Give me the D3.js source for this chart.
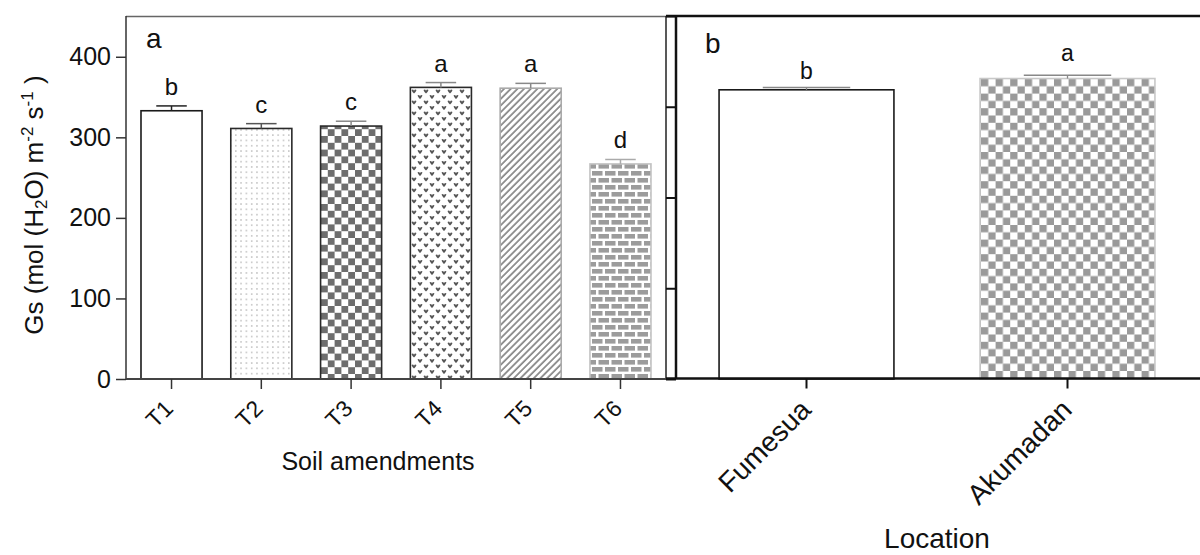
<!DOCTYPE html>
<html><head><meta charset="utf-8">
<script src="https://cdn.jsdelivr.net/npm/d3@7"></script>
<style>
html,body{margin:0;padding:0;background:#fff;}
svg{display:block;font-family:"Liberation Sans",Arial,sans-serif;}
</style></head>
<body>
<svg id="chart" width="1200" height="555"></svg>
<script>
// ---- data ----
const treatments = ["T1","T2","T3","T4","T5","T6"];
const gsTreatment = [333, 311, 314, 362, 361, 267];
const errTreatment = [6, 6, 6, 6, 6, 5.5];
const lettersTreatment = ["b","c","c","a","a","d"];
const locations = ["Fumesua","Akumadan"];
const gsLocation = [359, 373];
const errLocation = [3, 4];
const lettersLocation = ["b","a"];
const yTicksA = [0,100,200,300,400];
const yTicksB = [0,100,200,300,400];

// ---- styles ----
const fillA = {T1:"#fff",T2:"url(#dots)",T3:"url(#check3)",T4:"url(#hearts)",T5:"url(#hatch)",T6:"url(#brick)"};
const strokeA = {T1:"#1a1a1a",T2:"#2a2a2a",T3:"#2a2a2a",T4:"#2a2a2a",T5:"#aaa",T6:"#c4c4c4"};
const errColA = {T1:"#222",T2:"#555",T3:"#888",T4:"#888",T5:"#888",T6:"#aaa"};
const fillB = {Fumesua:"#fff",Akumadan:"url(#checkB)"};
const strokeB = {Fumesua:"#1a1a1a",Akumadan:"#c8c8c8"};
const FONT = "Liberation Sans, Arial, sans-serif";

const svg = d3.select("#chart");
const defs = svg.append("defs");

// dots
let p = defs.append("pattern").attr("id","dots").attr("patternUnits","userSpaceOnUse").attr("width",5.3).attr("height",5.3);
p.append("rect").attr("width",5.3).attr("height",5.3).attr("fill","#fff");
p.append("circle").attr("cx",2.6).attr("cy",2.6).attr("r",0.65).attr("fill","#8a8a8a");
// checker T3
p = defs.append("pattern").attr("id","check3").attr("patternUnits","userSpaceOnUse").attr("width",13.6).attr("height",13.6).attr("x",321).attr("y",0);
p.append("rect").attr("width",13.6).attr("height",13.6).attr("fill","#fff");
p.append("rect").attr("width",6.8).attr("height",6.8).attr("fill","#6e6e6e");
p.append("rect").attr("x",6.8).attr("y",6.8).attr("width",6.8).attr("height",6.8).attr("fill","#6e6e6e");
// hearts T4
p = defs.append("pattern").attr("id","hearts").attr("patternUnits","userSpaceOnUse").attr("width",12).attr("height",11).attr("x",411);
p.append("rect").attr("width",12).attr("height",11).attr("fill","#fff");
const heart = "M0,0 q1.6,-1.4 2.5,0.7 q0.9,-2.1 2.5,-0.7 q-0.7,2 -2.5,3.6 q-1.8,-1.6 -2.5,-3.6z";
p.append("path").attr("d",heart).attr("transform","translate(0.5,2)").attr("fill","#555");
p.append("path").attr("d",heart).attr("transform","translate(6.5,7.5)").attr("fill","#555");
// hatch T5
p = defs.append("pattern").attr("id","hatch").attr("patternUnits","userSpaceOnUse").attr("width",4.7).attr("height",10).attr("patternTransform","rotate(45)");
p.append("rect").attr("width",4.7).attr("height",10).attr("fill","#fff");
p.append("line").attr("x1",1).attr("x2",1).attr("y1",0).attr("y2",10).attr("stroke","#6a6a6a").attr("stroke-width",1.4);
// brick T6
p = defs.append("pattern").attr("id","brick").attr("patternUnits","userSpaceOnUse").attr("width",13).attr("height",14).attr("x",591).attr("y",2);
p.append("rect").attr("width",13).attr("height",14).attr("fill","#fff");
p.append("rect").attr("x",1).attr("y",1).attr("width",10.5).attr("height",4.6).attr("fill","#9c9c9c");
p.append("rect").attr("x",-5.5).attr("y",8).attr("width",10.5).attr("height",4.6).attr("fill","#9c9c9c");
p.append("rect").attr("x",7.5).attr("y",8).attr("width",10.5).attr("height",4.6).attr("fill","#9c9c9c");
// checker Akumadan
p = defs.append("pattern").attr("id","checkB").attr("patternUnits","userSpaceOnUse").attr("width",14.6).attr("height",14.6).attr("x",981).attr("y",79);
p.append("rect").attr("width",14.6).attr("height",14.6).attr("fill","#fff");
p.append("rect").attr("width",7.3).attr("height",7.3).attr("fill","#9a9a9a");
p.append("rect").attr("x",7.3).attr("y",7.3).attr("width",7.3).attr("height",7.3).attr("fill","#9a9a9a");

// ---- scales ----
const yA = d3.scaleLinear().domain([0,450]).range([379,16.5]);
const xA = d3.scaleBand().domain(treatments).range([126,666]).paddingInner(0.32).paddingOuter(0.167);
const yB = d3.scaleLinear().domain([0,400]).range([379,16]);
const xB = d3.scaleBand().domain(locations).range([676,1198]).paddingInner(0.33).paddingOuter(0.165);

// ---- Panel a ----
const gA = svg.append("g");
gA.append("line").attr("x1",126).attr("x2",666).attr("y1",16.5).attr("y2",16.5).attr("stroke","#666").attr("stroke-width",1.3);
gA.append("line").attr("x1",666).attr("x2",666).attr("y1",16).attr("y2",379).attr("stroke","#222").attr("stroke-width",1.5);

gA.selectAll("rect.bar").data(treatments).join("rect").attr("class","bar")
  .attr("x",d=>xA(d)).attr("width",xA.bandwidth())
  .attr("y",(d,i)=>yA(gsTreatment[i])).attr("height",(d,i)=>yA(0)-yA(gsTreatment[i]))
  .attr("fill",d=>fillA[d]).attr("stroke",d=>strokeA[d]).attr("stroke-width",1.6);
treatments.forEach((d,i)=>{
  const cx = xA(d)+xA.bandwidth()/2, top=yA(gsTreatment[i]+errTreatment[i]);
  const hw = xA.bandwidth()/4;
  gA.append("line").attr("x1",cx).attr("x2",cx).attr("y1",yA(gsTreatment[i])).attr("y2",top).attr("stroke",errColA[d]).attr("stroke-width",1.5);
  gA.append("line").attr("x1",cx-hw).attr("x2",cx+hw).attr("y1",top).attr("y2",top).attr("stroke",errColA[d]).attr("stroke-width",1.5);
  gA.append("text").attr("x",cx).attr("y",top-11).attr("text-anchor","middle").attr("font-size",24).attr("fill","#111").text(lettersTreatment[i]);
});

const axA = gA.append("g").attr("transform","translate(126,0)")
  .call(d3.axisLeft(yA).tickValues(yTicksA).tickSize(10).tickPadding(5).tickSizeOuter(0));
axA.select(".domain").attr("stroke","#333").attr("stroke-width",1.5).attr("d","M0,16V379");
axA.selectAll(".tick line").attr("stroke","#333").attr("stroke-width",1.5);
axA.selectAll(".tick text").attr("font-size",25).attr("fill","#111").attr("font-family",FONT);

const axXA = gA.append("g").attr("transform","translate(0,379)")
  .call(d3.axisBottom(xA).tickSize(10).tickSizeOuter(0));
axXA.select(".domain").attr("stroke","#444").attr("stroke-width",2).attr("d","M126,0H666");
axXA.selectAll(".tick line").attr("stroke","#333").attr("stroke-width",1.5);
axXA.selectAll(".tick text").attr("font-size",23).attr("fill","#111").attr("font-family",FONT)
  .attr("text-anchor","end").attr("dy",null).attr("y",null)
  .attr("transform","translate(3,31) rotate(-45)");

gA.append("text").attr("x",146).attr("y",48).attr("font-size",28).attr("fill","#111").text("a");

const yl = svg.append("text").attr("transform","translate(43,205) rotate(-90)").attr("text-anchor","middle").attr("font-size",26).attr("fill","#111");
yl.append("tspan").text("Gs (mol (H");
yl.append("tspan").attr("font-size",17).attr("baseline-shift","-25%").text("2");
yl.append("tspan").text("O) m");
yl.append("tspan").attr("font-size",17).attr("baseline-shift","60%").text("-2");
yl.append("tspan").text(" s");
yl.append("tspan").attr("font-size",17).attr("baseline-shift","60%").text("-1");
yl.append("tspan").text("  )");

svg.append("text").attr("x",378).attr("y",470).attr("text-anchor","middle").attr("font-size",25).attr("fill","#111").text("Soil amendments");

// ---- Panel b ----
const gB = svg.append("g");
gB.selectAll("rect.bar").data(locations).join("rect").attr("class","bar")
  .attr("x",d=>xB(d)).attr("width",xB.bandwidth())
  .attr("y",(d,i)=>yA(gsLocation[i])).attr("height",(d,i)=>yA(0)-yA(gsLocation[i]))
  .attr("fill",d=>fillB[d]).attr("stroke",d=>strokeB[d]).attr("stroke-width",1.6);
locations.forEach((d,i)=>{
  const cx = xB(d)+xB.bandwidth()/2, top=yA(gsLocation[i]+errLocation[i]);
  const hw = xB.bandwidth()/4;
  gB.append("line").attr("x1",cx).attr("x2",cx).attr("y1",yA(gsLocation[i])).attr("y2",top).attr("stroke","#888").attr("stroke-width",1.3);
  gB.append("line").attr("x1",cx-hw).attr("x2",cx+hw).attr("y1",top).attr("y2",top).attr("stroke","#888").attr("stroke-width",1.5);
  gB.append("text").attr("x",cx).attr("y",top-(i===0?8:14)).attr("text-anchor","middle").attr("font-size",23).attr("fill","#111").text(lettersLocation[i]);
});
gB.append("line").attr("x1",666).attr("x2",1200).attr("y1",16).attr("y2",16).attr("stroke","#111").attr("stroke-width",2.5);
const axB = gB.append("g").attr("transform","translate(676,0)")
  .call(d3.axisLeft(yB).tickValues(yTicksB).tickSize(10).tickFormat("").tickSizeOuter(0));
axB.select(".domain").attr("stroke","#111").attr("stroke-width",2.5).attr("d","M0,16V379");
axB.selectAll(".tick line").attr("stroke","#111").attr("stroke-width",2);
const axXB = gB.append("g").attr("transform","translate(0,378.5)")
  .call(d3.axisBottom(xB).tickSize(10).tickSizeOuter(0));
axXB.select(".domain").attr("stroke","#111").attr("stroke-width",2.5).attr("d","M666,0H1200");
axXB.selectAll(".tick line").attr("stroke","#111").attr("stroke-width",2);
axXB.selectAll(".tick text").attr("font-size",28).attr("fill","#111").attr("font-family",FONT)
  .attr("text-anchor","end").attr("dy",null).attr("y",null)
  .attr("transform","translate(6,33) rotate(-45)");

gB.append("text").attr("x",705).attr("y",53).attr("font-size",28).attr("fill","#111").text("b");
svg.append("text").attr("x",937).attr("y",548).attr("text-anchor","middle").attr("font-size",28).attr("fill","#111").text("Location");
</script>
</body></html>
